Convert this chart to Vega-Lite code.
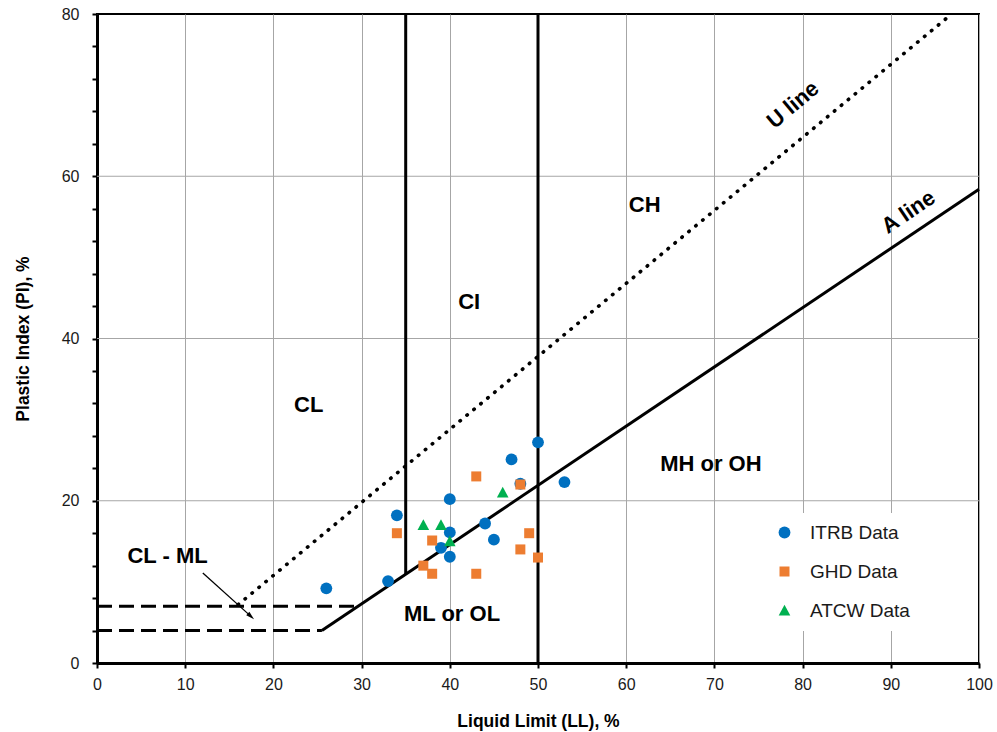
{
  "$schema": "https://vega.github.io/schema/vega-lite/v6.json",
  "width": 882,
  "height": 649,
  "autosize": {"type": "none"},
  "padding": {"left": 97, "top": 14, "right": 18, "bottom": 69},
  "background": "white",
  "config": {
    "font": "Liberation Sans",
    "view": {"stroke": "black", "strokeWidth": 2},
    "axis": {
      "domainColor": "black",
      "domainWidth": 3,
      "tickColor": "black",
      "tickWidth": 2,
      "tickSize": 5,
      "labelFlush": false,
      "labelFont": "Liberation Sans",
      "labelFontSize": 16,
      "labelColor": "#1a1a1a",
      "titleFont": "Liberation Sans",
      "titleFontSize": 17.5,
      "titleFontWeight": "bold",
      "titleColor": "black"
    }
  },
  "datasets": {
    "segments": [
      {"kind": "grid", "LL": 0, "PI": 20, "LL2": 100, "PI2": 20},
      {"kind": "grid", "LL": 0, "PI": 40, "LL2": 100, "PI2": 40},
      {"kind": "grid", "LL": 0, "PI": 60, "LL2": 100, "PI2": 60},
      {"kind": "solid", "LL": 25.5, "PI": 4, "LL2": 100, "PI2": 58.4},
      {"kind": "solid", "LL": 35, "PI": 10.95, "LL2": 35, "PI2": 80},
      {"kind": "solid", "LL": 50, "PI": 0, "LL2": 50, "PI2": 80},
      {"kind": "dotted", "LL": 16, "PI": 7.2, "LL2": 96.9, "PI2": 80},
      {"kind": "dashed", "LL": 0, "PI": 7, "LL2": 29.6, "PI2": 7},
      {"kind": "dashed", "LL": 0, "PI": 4, "LL2": 25.5, "PI2": 4},
      {"kind": "arrow", "LL": 12, "PI": 11.1, "LL2": 17.3, "PI2": 5.9}
    ],
    "arrowhead": [
      {"LL": 17.45, "PI": 5.75}
    ],
    "points": [
      {"source": "ITRB Data", "LL": 50, "PI": 27.2},
      {"source": "ITRB Data", "LL": 47, "PI": 25.1},
      {"source": "ITRB Data", "LL": 48, "PI": 22.1},
      {"source": "ITRB Data", "LL": 53, "PI": 22.3},
      {"source": "ITRB Data", "LL": 40, "PI": 20.2},
      {"source": "ITRB Data", "LL": 34, "PI": 18.2},
      {"source": "ITRB Data", "LL": 40, "PI": 16.1},
      {"source": "ITRB Data", "LL": 44, "PI": 17.2},
      {"source": "ITRB Data", "LL": 45, "PI": 15.2},
      {"source": "ITRB Data", "LL": 39, "PI": 14.2},
      {"source": "ITRB Data", "LL": 40, "PI": 13.1},
      {"source": "ITRB Data", "LL": 33, "PI": 10.1},
      {"source": "ITRB Data", "LL": 26, "PI": 9.2},
      {"source": "GHD Data", "LL": 43, "PI": 23},
      {"source": "GHD Data", "LL": 48, "PI": 22},
      {"source": "GHD Data", "LL": 34, "PI": 16},
      {"source": "GHD Data", "LL": 49, "PI": 16},
      {"source": "GHD Data", "LL": 38, "PI": 15.1},
      {"source": "GHD Data", "LL": 48, "PI": 14},
      {"source": "GHD Data", "LL": 50, "PI": 13},
      {"source": "GHD Data", "LL": 37, "PI": 12},
      {"source": "GHD Data", "LL": 38, "PI": 11},
      {"source": "GHD Data", "LL": 43, "PI": 11},
      {"source": "ATCW Data", "LL": 46, "PI": 21},
      {"source": "ATCW Data", "LL": 37, "PI": 17},
      {"source": "ATCW Data", "LL": 39, "PI": 17},
      {"source": "ATCW Data", "LL": 40, "PI": 15}
    ],
    "labels": [
      {"kind": "flat", "text": "CL", "LL": 24.0, "PI": 31.8},
      {"kind": "flat", "text": "CI", "LL": 42.2, "PI": 44.5},
      {"kind": "flat", "text": "CH", "LL": 62.1, "PI": 56.4},
      {"kind": "flat", "text": "MH or OH", "LL": 69.6, "PI": 24.5},
      {"kind": "flat", "text": "ML or OL", "LL": 40.25, "PI": 6.0},
      {"kind": "flat", "text": "CL - ML", "LL": 8.0, "PI": 13.2},
      {"kind": "uline", "text": "U line", "LL": 78.9, "PI": 68.8},
      {"kind": "aline", "text": "A line", "LL": 92.0, "PI": 55.6}
    ]
  },
  "encoding": {
    "x": {
      "field": "LL",
      "type": "quantitative",
      "scale": {"domain": [0, 100], "nice": false, "zero": false},
      "axis": {
        "title": "Liquid Limit (LL), %",
        "values": [0, 10, 20, 30, 40, 50, 60, 70, 80, 90, 100],
        "grid": true,
        "gridColor": "#a6a6a6",
        "gridWidth": 1,
        "labelPadding": 8,
        "titlePadding": 20
      }
    },
    "y": {
      "field": "PI",
      "type": "quantitative",
      "scale": {"domain": [0, 80], "nice": false, "zero": false},
      "axis": {
        "title": "Plastic Index (PI), %",
        "values": [0, 4, 8, 12, 16, 20, 24, 28, 32, 36, 40, 44, 48, 52, 56, 60, 64, 68, 72, 76, 80],
        "labelExpr": "datum.value % 20 == 0 ? datum.label : ''",
        "grid": false,
        "labelPadding": 13,
        "titlePadding": 29
      }
    }
  },
  "layer": [
    {
      "data": {"name": "segments"},
      "transform": [{"filter": "datum.kind == 'grid'"}],
      "mark": {"type": "rule", "color": "#a6a6a6", "strokeWidth": 1},
      "encoding": {"x2": {"field": "LL2"}, "y2": {"field": "PI2"}}
    },
    {
      "data": {"name": "segments"},
      "transform": [{"filter": "datum.kind == 'solid'"}],
      "mark": {"type": "rule", "color": "black", "strokeWidth": 3},
      "encoding": {"x2": {"field": "LL2"}, "y2": {"field": "PI2"}}
    },
    {
      "data": {"name": "segments"},
      "transform": [{"filter": "datum.kind == 'dotted'"}],
      "mark": {"type": "rule", "color": "black", "strokeWidth": 3.6, "strokeCap": "round", "strokeDash": [0.5, 8.5]},
      "encoding": {"x2": {"field": "LL2"}, "y2": {"field": "PI2"}}
    },
    {
      "data": {"name": "segments"},
      "transform": [{"filter": "datum.kind == 'dashed'"}],
      "mark": {"type": "rule", "color": "black", "strokeWidth": 3, "strokeDash": [15, 7]},
      "encoding": {"x2": {"field": "LL2"}, "y2": {"field": "PI2"}}
    },
    {
      "data": {"name": "segments"},
      "transform": [{"filter": "datum.kind == 'arrow'"}],
      "mark": {"type": "rule", "color": "black", "strokeWidth": 1.3},
      "encoding": {"x2": {"field": "LL2"}, "y2": {"field": "PI2"}}
    },
    {
      "data": {"name": "arrowhead"},
      "mark": {"type": "point", "shape": "M0,-1L0.55,1L-0.55,1Z", "filled": true, "color": "black", "opacity": 1, "size": 70, "angle": 132}
    },
    {
      "data": {"name": "points"},
      "mark": {"type": "point", "filled": true, "opacity": 1},
      "encoding": {
        "color": {
          "field": "source",
          "type": "nominal",
          "scale": {"domain": ["ITRB Data", "GHD Data", "ATCW Data"], "range": ["#0070C0", "#ED7D31", "#00B050"]},
          "legend": {
            "title": null,
            "orient": "none",
            "legendX": 668,
            "legendY": 499,
            "fillColor": "white",
            "padding": 10,
            "labelFont": "Liberation Sans",
            "labelFontSize": 19,
            "labelColor": "#1a1a1a",
            "labelOffset": 16,
            "rowPadding": 19,
            "symbolOpacity": 1
          }
        },
        "shape": {
          "field": "source",
          "type": "nominal",
          "scale": {"domain": ["ITRB Data", "GHD Data", "ATCW Data"], "range": ["circle", "square", "M0,-1L1,0.85L-1,0.85Z"]}
        },
        "size": {
          "field": "source",
          "type": "ordinal",
          "scale": {"type": "ordinal", "domain": ["ITRB Data", "GHD Data", "ATCW Data"], "range": [140, 100, 135]}
        }
      }
    },
    {
      "data": {"name": "labels"},
      "transform": [{"filter": "datum.kind == 'flat'"}],
      "mark": {"type": "text", "font": "Liberation Sans", "fontSize": 22, "fontWeight": "bold", "color": "black", "align": "center", "baseline": "middle"},
      "encoding": {"text": {"field": "text"}}
    },
    {
      "data": {"name": "labels"},
      "transform": [{"filter": "datum.kind == 'uline'"}],
      "mark": {"type": "text", "font": "Liberation Sans", "fontSize": 22, "fontWeight": "bold", "color": "black", "align": "center", "baseline": "middle", "angle": 320},
      "encoding": {"text": {"field": "text"}}
    },
    {
      "data": {"name": "labels"},
      "transform": [{"filter": "datum.kind == 'aline'"}],
      "mark": {"type": "text", "font": "Liberation Sans", "fontSize": 22, "fontWeight": "bold", "color": "black", "align": "center", "baseline": "middle", "angle": 326},
      "encoding": {"text": {"field": "text"}}
    }
  ]
}
